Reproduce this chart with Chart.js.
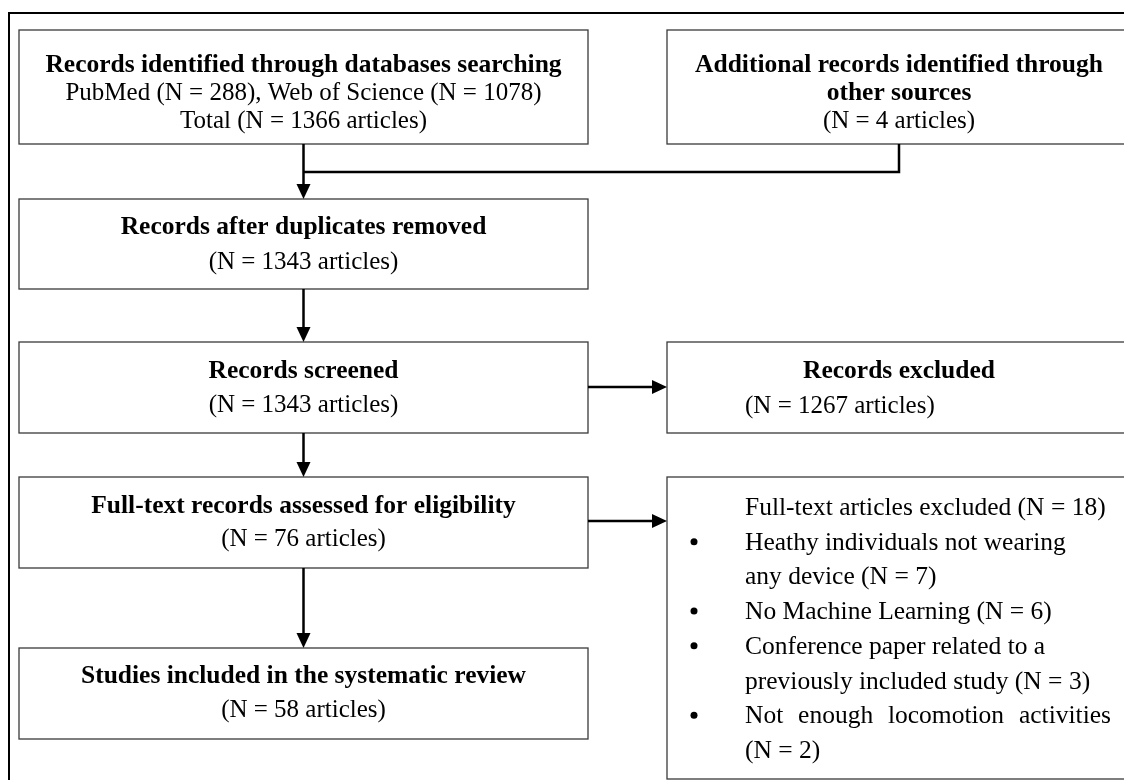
<!DOCTYPE html>
<html>
<head>
<meta charset="utf-8">
<script src="https://cdn.jsdelivr.net/npm/chart.js@4"></script>
<style>
  html, body { margin: 0; padding: 0; background: #fff; }
  #wrap { width: 1124px; height: 780px; }
</style>
</head>
<body>
<div id="wrap"><canvas id="flowChart" width="1124" height="780"></canvas></div>
<script>
// Data
const databases = ['PubMed', 'Web of Science'];
const databaseCounts = [288, 1078];
const totalIdentified = [1366];
const otherSourceCounts = [4];
const stageLabels = ['Records after duplicates removed', 'Records screened',
  'Full-text records assessed for eligibility', 'Studies included in the systematic review'];
const stageCounts = [1343, 1343, 76, 58];
const screeningExcluded = [1267];
const fullTextExcluded = [18];
const exclusionReasons = ['Heathy individuals not wearing any device', 'No Machine Learning',
  'Conference paper related to a previously included study', 'Not enough locomotion activities'];
const exclusionCounts = [7, 6, 3, 2];

// Layout of the boxes, in scale units (canvas is 1124 x 780)
const boxes = {
  identified: { x0: 19, x1: 588, y0: 30, y1: 144 },
  other: { x0: 667, x1: 1140, y0: 30, y1: 144 },
  stage0: { x0: 19, x1: 588, y0: 199, y1: 289 },
  stage1: { x0: 19, x1: 588, y0: 342, y1: 433 },
  stage2: { x0: 19, x1: 588, y0: 477, y1: 568 },
  stage3: { x0: 19, x1: 588, y0: 648, y1: 739 },
  excluded: { x0: 667, x1: 1140, y0: 342, y1: 433 },
  ftExcluded: { x0: 667, x1: 1140, y0: 477, y1: 779 }
};
// word after which each exclusion reason wraps (as in the original figure)
const wrapAfter = [4, 0, 5, 4];

const BOLD = 'bold 25.5px "Liberation Serif", "Times New Roman", serif';
const REG = '25px "Liberation Serif", "Times New Roman", serif';
const REG_LIST = '25.5px "Liberation Serif", "Times New Roman", serif';

const flowPlugin = {
  id: 'flowPlugin',
  afterDraw(chart) {
    const ctx = chart.ctx;
    const sx = chart.scales.x, sy = chart.scales.y;
    const X = v => sx.getPixelForValue(v);
    const Y = v => sy.getPixelForValue(v);

    ctx.save();
    // outer frame
    ctx.strokeStyle = '#000';
    ctx.lineWidth = 2;
    ctx.strokeRect(X(9), Y(13), X(1200) - X(9), Y(900) - Y(13));

    // boxes
    ctx.strokeStyle = '#3a3a3a';
    ctx.lineWidth = 1.3;
    Object.values(boxes).forEach(b => {
      ctx.fillStyle = '#fff';
      ctx.fillRect(X(b.x0), Y(b.y0), X(b.x1) - X(b.x0), Y(b.y1) - Y(b.y0));
      ctx.strokeRect(X(b.x0), Y(b.y0), X(b.x1) - X(b.x0), Y(b.y1) - Y(b.y0));
    });

    // connectors
    const cxL = (boxes.stage0.x0 + boxes.stage0.x1) / 2;
    const cxR = 899;
    ctx.strokeStyle = '#000';
    ctx.fillStyle = '#000';
    ctx.lineWidth = 2.5;
    const line = pts => {
      ctx.beginPath();
      ctx.moveTo(X(pts[0][0]), Y(pts[0][1]));
      pts.slice(1).forEach(p => ctx.lineTo(X(p[0]), Y(p[1])));
      ctx.stroke();
    };
    const arrowDown = (x, y) => {
      ctx.beginPath();
      ctx.moveTo(X(x), Y(y));
      ctx.lineTo(X(x) - 7, Y(y) - 15);
      ctx.lineTo(X(x) + 7, Y(y) - 15);
      ctx.closePath();
      ctx.fill();
    };
    const arrowRight = (x, y) => {
      ctx.beginPath();
      ctx.moveTo(X(x), Y(y));
      ctx.lineTo(X(x) - 15, Y(y) - 7);
      ctx.lineTo(X(x) - 15, Y(y) + 7);
      ctx.closePath();
      ctx.fill();
    };
    line([[cxL, boxes.identified.y1], [cxL, boxes.stage0.y0 - 12]]);
    arrowDown(cxL, boxes.stage0.y0);
    line([[cxR, boxes.other.y1], [cxR, 172], [cxL, 172]]);
    ['stage0', 'stage1', 'stage2'].forEach((k, i) => {
      const next = boxes['stage' + (i + 1)];
      line([[cxL, boxes[k].y1], [cxL, next.y0 - 12]]);
      arrowDown(cxL, next.y0);
    });
    line([[boxes.stage1.x1, 387], [boxes.excluded.x0 - 12, 387]]);
    arrowRight(boxes.excluded.x0, 387);
    line([[boxes.stage2.x1, 521], [boxes.ftExcluded.x0 - 12, 521]]);
    arrowRight(boxes.ftExcluded.x0, 521);

    // texts
    ctx.fillStyle = '#000';
    ctx.textBaseline = 'alphabetic';
    const text = (str, x, y, font, align) => {
      ctx.font = font;
      ctx.textAlign = align || 'center';
      ctx.fillText(str, X(x), Y(y));
    };
    text('Records identified through databases searching', cxL, 72, BOLD);
    text(databases.map((d, i) => d + ' (N = ' + databaseCounts[i] + ')').join(', '), cxL, 100, REG);
    text('Total (N = ' + totalIdentified[0] + ' articles)', cxL, 128, REG);

    text('Additional records identified through', cxR, 72, BOLD);
    text('other sources', cxR, 100, BOLD);
    text('(N = ' + otherSourceCounts[0] + ' articles)', cxR, 128, REG);

    const stageBase = [[234, 269], [378, 412], [513, 546], [683, 717]];
    stageLabels.forEach((lab, i) => {
      text(lab, cxL, stageBase[i][0], BOLD);
      text('(N = ' + stageCounts[i] + ' articles)', cxL, stageBase[i][1], REG);
    });

    text('Records excluded', cxR, 378, BOLD);
    text('(N = ' + screeningExcluded[0] + ' articles)', 745, 413, REG, 'left');

    // full-text exclusions with bullets
    const left = 745, right = 1111, lh = 34.7;
    let base = 515;
    text('Full-text articles excluded (N = ' + fullTextExcluded[0] + ')', left, base, REG_LIST, 'left');
    ctx.font = REG_LIST;
    exclusionReasons.forEach((r, i) => {
      const words = r.split(' ');
      const tail = '(N = ' + exclusionCounts[i] + ')';
      let rows;
      if (wrapAfter[i] > 0) {
        rows = [words.slice(0, wrapAfter[i]).join(' '), words.slice(wrapAfter[i]).concat([tail]).join(' ').trim()];
      } else {
        rows = [r + ' ' + tail];
      }
      base += lh;
      ctx.beginPath();
      ctx.arc(X(694), Y(base - 8), 3.5, 0, Math.PI * 2);
      ctx.fill();
      rows.forEach((row, j) => {
        const y = base + j * lh;
        const justify = i === exclusionReasons.length - 1 && j < rows.length - 1;
        if (justify) {
          const ws = row.split(' ');
          const wordsW = ws.reduce((s, w) => s + ctx.measureText(w).width, 0);
          const gap = (X(right) - X(left) - wordsW) / (ws.length - 1);
          let xx = X(left);
          ctx.textAlign = 'left';
          ws.forEach(w => { ctx.fillText(w, xx, Y(y)); xx += ctx.measureText(w).width + gap; });
        } else {
          text(row, left, y, REG_LIST, 'left');
        }
      });
      base += (rows.length - 1) * lh;
    });
    ctx.restore();
  }
};

new Chart(document.getElementById('flowChart'), {
  type: 'scatter',
  data: { datasets: [{ data: [], pointRadius: 0 }] },
  options: {
    responsive: false,
    animation: false,
    events: [],
    layout: { padding: 0 },
    plugins: { legend: { display: false }, tooltip: { enabled: false } },
    scales: {
      x: { type: 'linear', min: 0, max: 1124, display: false },
      y: { type: 'linear', min: 0, max: 780, reverse: true, display: false }
    }
  },
  plugins: [flowPlugin]
});
</script>
</body>
</html>
